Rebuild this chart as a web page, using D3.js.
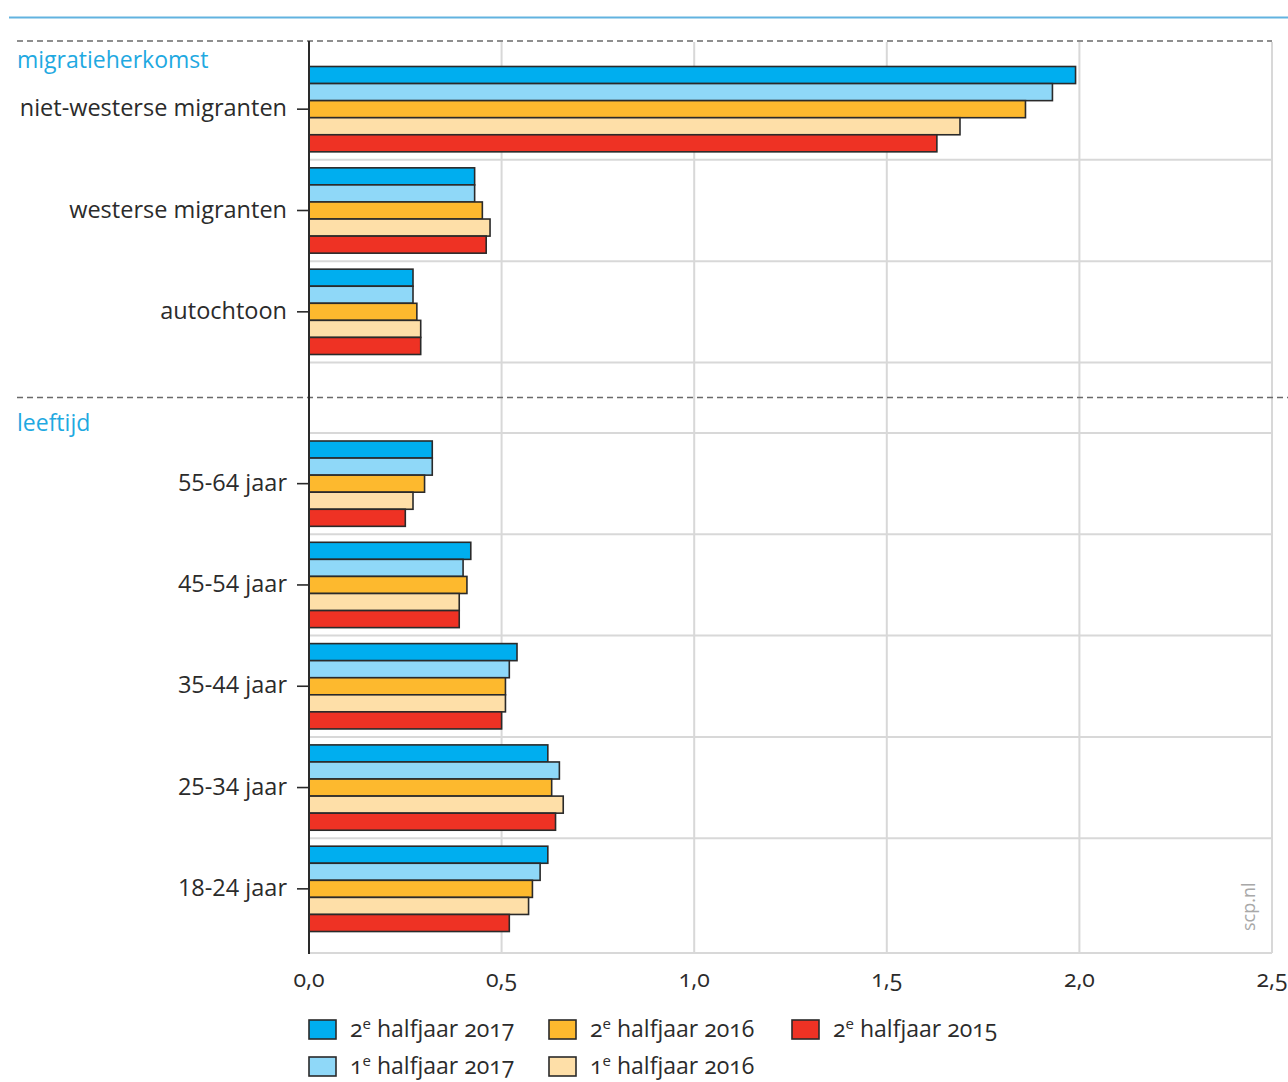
<!DOCTYPE html>
<html>
<head>
<meta charset="utf-8">
<script src="https://cdn.jsdelivr.net/npm/d3@7"></script>
<style>
  body { margin: 0; background: #fff; }
  svg text { font-family: "Open Sans", Lato, sans-serif; }
</style>
</head>
<body>
<svg id="chart" width="1288" height="1082"></svg>
<script>
// ---- data ----
const seriesKeys = ["2e2017", "1e2017", "2e2016", "1e2016", "2e2015"];
const seriesOrd = ["2", "1", "2", "1", "2"];
const seriesYear = ["2017", "2017", "2016", "2016", "2015"];
const seriesColors = ["#00aeef", "#8fd8f8", "#fdb92e", "#fedfa8", "#ee3224"];

const groupTitles = ["migratieherkomst", "leeftijd"];
const migrCategories = ["niet-westerse migranten", "westerse migranten", "autochtoon"];
const ageCategories = ["55-64 jaar", "45-54 jaar", "35-44 jaar", "25-34 jaar", "18-24 jaar"];

// values per category, in series order
const migrValues = [
  [1.99, 1.93, 1.86, 1.69, 1.63],
  [0.43, 0.43, 0.45, 0.47, 0.46],
  [0.27, 0.27, 0.28, 0.29, 0.29]
];
const ageValues = [
  [0.32, 0.32, 0.30, 0.27, 0.25],
  [0.42, 0.40, 0.41, 0.39, 0.39],
  [0.54, 0.52, 0.51, 0.51, 0.50],
  [0.62, 0.65, 0.63, 0.66, 0.64],
  [0.62, 0.60, 0.58, 0.57, 0.52]
];
const xTicks = [0, 0.5, 1.0, 1.5, 2.0, 2.5];
const xTickLabels = ["0,0", "0,5", "1,0", "1,5", "2,0", "2,5"];

// ---- layout ----
const svg = d3.select("#chart");
const left = 309, right = 1272, plotTop = 41, plotBottom = 953;
const x = d3.scaleLinear().domain([0, 2.5]).range([left, right]);

const yMigr = d3.scaleBand().domain(migrCategories).range([58.5, 362.5]);
const yAge = d3.scaleBand().domain(ageCategories).range([433, 939.5]);
const inner = d3.scaleBand().domain(seriesKeys).range([8, yMigr.bandwidth() - 8]);

const gridColor = "#d8d8d8";
const dark = "#2a2a2a";
const textColor = "#2b2b2b";
const accent = "#1fa9e1";

// top rule
svg.append("line").attr("x1", 9).attr("x2", 1288).attr("y1", 17.5).attr("y2", 17.5)
  .attr("stroke", "#62b3e0").attr("stroke-width", 2);

// vertical grid
svg.append("g").selectAll("line").data(xTicks.slice(1)).join("line")
  .attr("x1", d => x(d)).attr("x2", d => x(d))
  .attr("y1", plotTop + 1).attr("y2", plotBottom)
  .attr("stroke", gridColor).attr("stroke-width", 2);

// horizontal grid at band boundaries
const hLines = migrCategories.map(d => yMigr(d) + yMigr.bandwidth())
  .concat(ageCategories.map(d => yAge(d)));
svg.append("g").selectAll("line").data(hLines).join("line")
  .attr("x1", left).attr("x2", right)
  .attr("y1", d => d).attr("y2", d => d)
  .attr("stroke", gridColor).attr("stroke-width", 2);
svg.append("line").attr("x1", left).attr("x2", right)
  .attr("y1", plotBottom).attr("y2", plotBottom)
  .attr("stroke", gridColor).attr("stroke-width", 2);

// dashed separators
svg.append("line").attr("x1", 17).attr("x2", right).attr("y1", plotTop).attr("y2", plotTop)
  .attr("stroke", "#6a6a6a").attr("stroke-width", 1.6).attr("stroke-dasharray", "6,4");
svg.append("line").attr("x1", 17).attr("x2", 1288).attr("y1", 397.5).attr("y2", 397.5)
  .attr("stroke", "#6a6a6a").attr("stroke-width", 1.6).attr("stroke-dasharray", "6,4");

// group headers
svg.append("text").attr("x", 17).attr("y", 68).attr("fill", accent)
  .attr("font-size", 23).text(groupTitles[0]);
svg.append("text").attr("x", 17).attr("y", 431).attr("fill", accent)
  .attr("font-size", 23).text(groupTitles[1]);

// bars
function drawGroup(cats, vals, yScale) {
  const g = svg.append("g");
  cats.forEach((c, i) => {
    const y0 = yScale(c);
    g.selectAll(null).data(vals[i]).join("rect")
      .attr("x", x(0))
      .attr("y", (d, j) => y0 + inner(seriesKeys[j]))
      .attr("width", d => x(d) - x(0))
      .attr("height", inner.bandwidth())
      .attr("fill", (d, j) => seriesColors[j])
      .attr("stroke", dark).attr("stroke-width", 1.6);
  });
  // axis labels and ticks
  const ax = svg.append("g");
  ax.selectAll("line").data(cats).join("line")
    .attr("x1", left - 12).attr("x2", left)
    .attr("y1", d => yScale(d) + yScale.bandwidth() / 2)
    .attr("y2", d => yScale(d) + yScale.bandwidth() / 2)
    .attr("stroke", dark).attr("stroke-width", 1.6);
  ax.selectAll("text").data(cats).join("text")
    .attr("x", left - 22)
    .attr("y", d => yScale(d) + yScale.bandwidth() / 2)
    .attr("dy", "0.3em")
    .attr("text-anchor", "end")
    .attr("font-size", 23.5)
    .attr("fill", textColor)
    .text(d => d);
}
drawGroup(migrCategories, migrValues, yMigr);
drawGroup(ageCategories, ageValues, yAge);

// vertical axis line
svg.append("line").attr("x1", left).attr("x2", left).attr("y1", plotTop).attr("y2", plotBottom + 1)
  .attr("stroke", dark).attr("stroke-width", 2);

// x tick labels
svg.append("g").selectAll("text").data(xTicks).join("text")
  .attr("x", d => x(d)).attr("y", 987)
  .attr("text-anchor", "middle").attr("font-size", 23).attr("fill", textColor)
  .style("font-variant-numeric", "oldstyle-nums")
  .text((d, i) => xTickLabels[i]);

// watermark
svg.append("text").attr("transform", "translate(1255,931) rotate(-90)")
  .attr("font-size", 18).attr("fill", "#a8a8a8").text("scp.nl");

// legend
const legendCols = [309, 549, 792];
const legendRows = [1029, 1066];
const legend = svg.append("g");
seriesKeys.forEach((k, i) => {
  const cx = legendCols[Math.floor(i / 2)];
  const cy = legendRows[i % 2];
  const item = legend.append("g");
  item.append("rect").attr("x", cx).attr("y", cy - 9).attr("width", 27).attr("height", 19)
    .attr("fill", seriesColors[i]).attr("stroke", dark).attr("stroke-width", 1.6);
  const t = item.append("text").attr("x", cx + 41).attr("y", cy).attr("dy", "0.35em")
    .attr("font-size", 23).attr("fill", textColor)
    .style("font-variant-numeric", "oldstyle-nums");
  t.append("tspan").text(seriesOrd[i]);
  t.append("tspan").attr("font-size", 15).attr("dy", "-0.55em").text("e");
  t.append("tspan").attr("dy", "0.36em").text(" halfjaar " + seriesYear[i]);
});
</script>
</body>
</html>
